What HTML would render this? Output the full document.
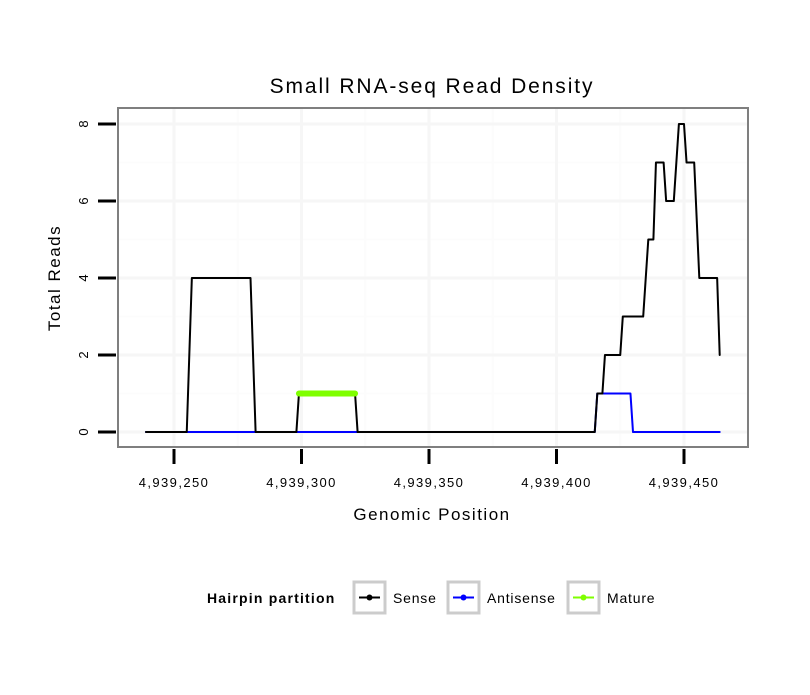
<!DOCTYPE html>
<html><head><meta charset="utf-8"><style>
body{margin:0;background:#fff}
svg text{font-family:"Liberation Sans",sans-serif}
</style></head><body>
<svg id="c" width="810" height="690" xmlns="http://www.w3.org/2000/svg">
<rect width="810" height="690" fill="#fff"/>
<text x="432" y="93" text-anchor="middle" font-size="21" letter-spacing="1.9">Small RNA-seq Read Density</text>
<g id="grid"></g>
<g id="series"></g>
<rect x="118" y="108" width="630" height="339" fill="none" stroke="#7f7f7f" stroke-width="2"/>
<g id="axes"></g>
<text x="432" y="520" text-anchor="middle" font-size="17" letter-spacing="1.5">Genomic Position</text>
<text transform="translate(60,278) rotate(-90)" text-anchor="middle" font-size="17" letter-spacing="1.5">Total Reads</text>
<g>
<text x="207" y="603" font-size="14" font-weight="bold" letter-spacing="1.2">Hairpin partition</text>
<g>
<rect x="354" y="582" width="31" height="31" fill="#fff" stroke="#ccc" stroke-width="3"/>
<line x1="359" y1="597.5" x2="380" y2="597.5" stroke="#000" stroke-width="2"/><circle cx="369.5" cy="597.5" r="3" fill="#000"/>
<text x="393" y="603" font-size="14" letter-spacing="0.8">Sense</text></g>
<g>
<rect x="448" y="582" width="31" height="31" fill="#fff" stroke="#ccc" stroke-width="3"/>
<line x1="453" y1="597.5" x2="474" y2="597.5" stroke="#00f" stroke-width="2"/><circle cx="463.5" cy="597.5" r="3" fill="#00f"/>
<text x="487" y="603" font-size="14" letter-spacing="0.8">Antisense</text></g>
<g>
<rect x="568" y="582" width="31" height="31" fill="#fff" stroke="#ccc" stroke-width="3"/>
<line x1="573" y1="597.5" x2="594" y2="597.5" stroke="#7fff00" stroke-width="2"/><circle cx="583.5" cy="597.5" r="3" fill="#7fff00"/>
<text x="607" y="603" font-size="14" letter-spacing="0.8">Mature</text></g>
</g>
</svg>
<script>
const xTicks=[4939250,4939300,4939350,4939400,4939450];
const xTickLabels=["4,939,250","4,939,300","4,939,350","4,939,400","4,939,450"];
const yTicks=[0,2,4,6,8];
const senseX=[4939239,4939255,4939257,4939280,4939282,4939298,4939299,4939321,4939322,4939415,4939416,4939418,4939419,4939425,4939426,4939434,4939436,4939438,4939439,4939442,4939443,4939446,4939448,4939450,4939451,4939454,4939456,4939463,4939464];
const senseY=[0,0,4,4,0,0,1,1,0,0,1,1,2,2,3,3,5,5,7,7,6,6,8,8,7,7,4,4,2];
const antiX=[4939239,4939415,4939416,4939429,4939430,4939464];
const antiY=[0,0,1,1,0,0];
const matureX=[4939299,4939321];
const matureY=[1,1];
const xs=v=>174+(v-4939250)*2.55;
const ys=v=>432-v*38.5;
const NS="http://www.w3.org/2000/svg";
function mk(t,a,p){const e=document.createElementNS(NS,t);for(const k in a)e.setAttribute(k,a[k]);p.appendChild(e);return e;}
const grid=document.getElementById('grid'),axes=document.getElementById('axes'),ser=document.getElementById('series');
const minorX=[4939225,4939275,4939325,4939375,4939425,4939475];
minorX.forEach(v=>{if(xs(v)>118&&xs(v)<748){const l=mk('line',{x1:xs(v),x2:xs(v),y1:108,y2:447,stroke:'#fcfcfc','stroke-width':2},grid);

}});
[1,3,5,7].forEach(v=>{const l=mk('line',{x1:118,x2:748,y1:ys(v),y2:ys(v),stroke:'#fcfcfc','stroke-width':2},grid);

});
xTicks.forEach((v,i)=>{const g=mk('line',{x1:xs(v),x2:xs(v),y1:108,y2:447,stroke:'#f6f6f6','stroke-width':3},grid);


const t=mk('line',{x1:xs(v),x2:xs(v),y1:449,y2:464,stroke:'#000','stroke-width':3},axes);


const tx=mk('text',{x:xs(v),y:487,'text-anchor':'middle','font-size':13,'letter-spacing':1.4},axes);tx.textContent=xTickLabels[i];

});
yTicks.forEach(v=>{const g=mk('line',{x1:118,x2:748,y1:ys(v),y2:ys(v),stroke:'#f6f6f6','stroke-width':3},grid);


const t=mk('line',{x1:98,x2:116,y1:ys(v),y2:ys(v),stroke:'#000','stroke-width':3},axes);


const tx=mk('text',{transform:`translate(88,${ys(v)}) rotate(-90)`,'text-anchor':'middle','font-size':13},axes);tx.textContent=v;

});
function line(X,Y,c,w,name){const p=mk('polyline',{points:X.map((x,i)=>xs(x)+','+ys(Y[i])).join(' '),fill:'none',stroke:c,'stroke-width':w,'stroke-linejoin':'round','stroke-linecap':'round'},ser);

}
line(antiX,antiY,'#0000ff',2,'antisense-line');
line(senseX,senseY,'#000',2,'sense-line');
line(matureX,matureY,'#7fff00',6,'mature-line');
</script>
</body></html>
